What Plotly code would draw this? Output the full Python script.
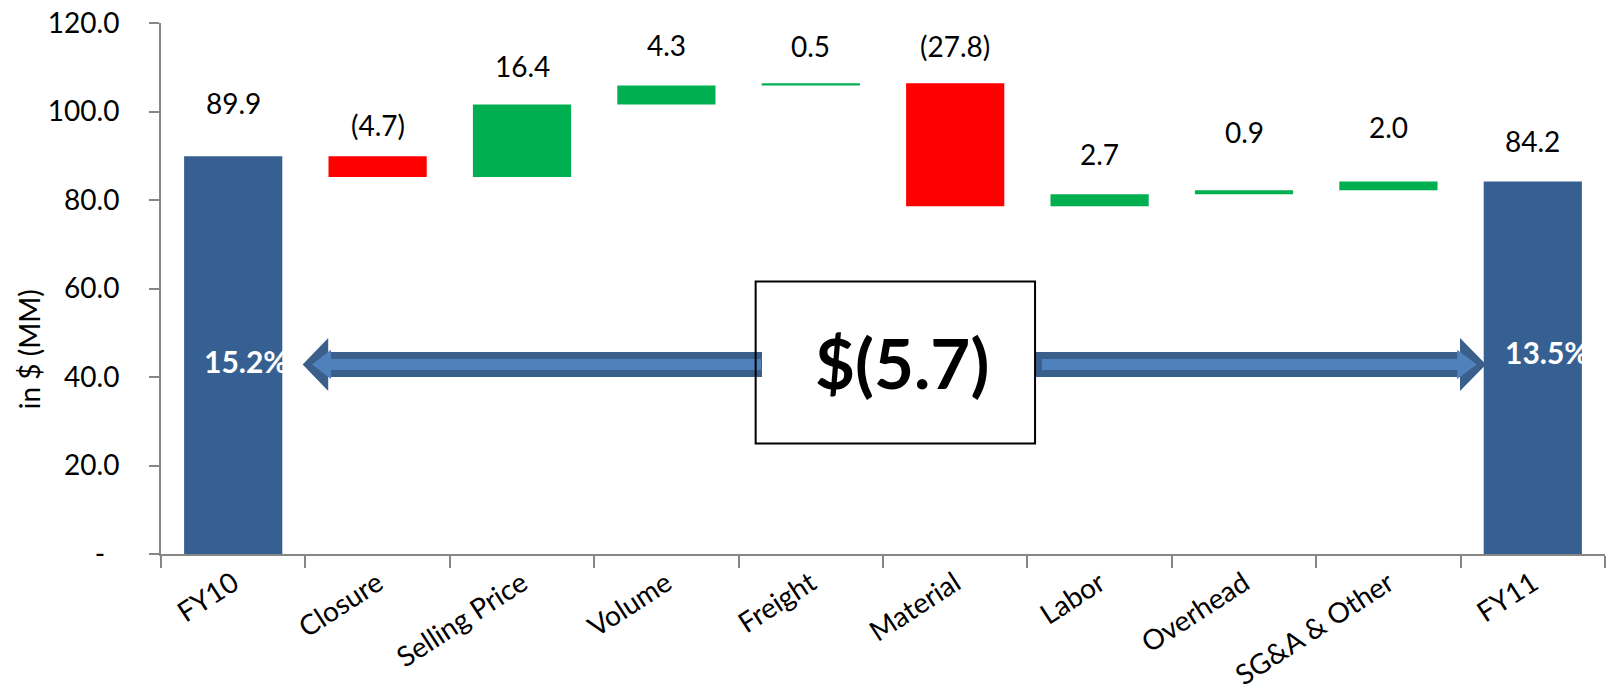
import plotly.graph_objects as go

# ---------------- data ----------------
categories = ["FY10", "Closure", "Selling Price", "Volume", "Freight",
              "Material", "Labor", "Overhead", "SG&A & Other", "FY11"]
values = [89.9, -4.7, 16.4, 4.3, 0.5, -27.8, 2.7, 0.9, 2.0, 84.2]
measures = ["absolute"] + ["relative"] * 8 + ["total"]
margin_labels = ["15.2%", "13.5%"]          # EBITDA margin FY10, FY11
y_tickvals = [0, 20, 40, 60, 80, 100, 120]
y_ticktext = ["-\u00a0\u00a0", "20.0", "40.0", "60.0", "80.0", "100.0", "120.0"]

# ---------------- styles ----------------
FONT = "Lato"
BLUE = "#376092"
GREEN = "#00B050"
RED = "#FF0000"
AXIS = "#868686"
ARROW_DARK = "#3A5F8B"
ARROW_LIGHT = "#4F81BD"
label_yshift = [53, 31, 38, 40, 37, 37, 40, 58, 54, 40]

x = list(range(len(categories)))


def fmt(v):
    return f"({abs(v):.1f})" if v < 0 else f"{v:.1f}"


# bar tops (for label placement)
tops = []
cum = 0.0
for v, m in zip(values, measures):
    if m == "absolute":
        cum = v
        tops.append(v)
    elif m == "relative":
        tops.append(max(cum, cum + v))
        cum += v
    else:
        tops.append(cum)

fig = go.Figure()
fig.add_trace(go.Waterfall(
    x=x, y=values, measure=measures, width=0.68,
    increasing=dict(marker=dict(color=GREEN, line=dict(width=0))),
    decreasing=dict(marker=dict(color=RED, line=dict(width=0))),
    totals=dict(marker=dict(color=BLUE, line=dict(width=0))),
    connector=dict(visible=False),
    hoverinfo="skip", showlegend=False,
))

annotations = []
for i, (v, t) in enumerate(zip(values, tops)):
    annotations.append(dict(
        x=i, y=t, xref="x", yref="y", text=fmt(v), showarrow=False,
        yanchor="middle", yshift=label_yshift[i],
        font=dict(family=FONT, size=28, color="black")))

# margin % labels inside total bars
annotations.append(dict(x=0 - 0.215, y=43.6, xref="x", yref="y", text=margin_labels[0],
                        showarrow=False, xanchor="left", yanchor="middle",
                        font=dict(family=FONT, size=30, color="white", weight="bold")))
annotations.append(dict(x=9 - 0.205, y=45.7, xref="x", yref="y", text=margin_labels[1],
                        showarrow=False, xanchor="left", yanchor="middle",
                        font=dict(family=FONT, size=30, color="white", weight="bold")))

# total change text
delta = values[-1] - values[0]
annotations.append(dict(x=4.635, y=43.2, xref="x", yref="y",
                        text=f"$({abs(delta):.1f})" if delta < 0 else f"${delta:.1f}",
                        showarrow=False, xanchor="center", yanchor="middle",
                        font=dict(family=FONT, size=69, color="black", weight="bold")))

# y axis title
annotations.append(dict(x=-0.0914, y=46.3, xref="paper", yref="y", text="in $ (MM)",
                        textangle=-90, showarrow=False, xanchor="center", yanchor="middle",
                        font=dict(family=FONT, size=28, color="black")))


def arrow_path(x_tip, x_head, x_end, yc, hs, hh):
    pts = [(x_tip, yc), (x_head, yc + hh), (x_head, yc + hs), (x_end, yc + hs),
           (x_end, yc - hs), (x_head, yc - hs), (x_head, yc - hh)]
    return "M " + " L ".join(f"{a},{b}" for a, b in pts) + " Z"


yc = 42.84
shapes = [
    # left arrow
    dict(type="path", xref="x", yref="y", line=dict(width=0), fillcolor=ARROW_DARK,
         path=arrow_path(0.481, 0.658, 3.662, yc, 2.825, 5.99)),
    dict(type="path", xref="x", yref="y", line=dict(width=0), fillcolor=ARROW_LIGHT,
         path=arrow_path(0.546, 0.677, 3.655, yc, 1.24, 3.3)),
    # right arrow
    dict(type="path", xref="x", yref="y", line=dict(width=0), fillcolor=ARROW_DARK,
         path=arrow_path(8.676, 8.496, 5.553, yc, 2.825, 5.99)),
    dict(type="path", xref="x", yref="y", line=dict(width=0), fillcolor=ARROW_LIGHT,
         path=arrow_path(8.612, 8.476, 5.600, yc, 1.24, 3.3)),
    # box
    dict(type="rect", xref="x", yref="y", x0=3.618, x1=5.553, y0=25.0, y1=61.6,
         line=dict(color="black", width=2), fillcolor="rgba(0,0,0,0)"),
]

fig.update_layout(
    width=1610, height=694,
    margin=dict(l=161, r=5, t=23, b=140, autoexpand=False),
    paper_bgcolor="white", plot_bgcolor="white",
    font=dict(family=FONT, size=28, color="black"),
    annotations=annotations, shapes=shapes,
    xaxis=dict(
        range=[-0.5, 9.5], tickmode="array", tickvals=x, ticktext=categories,
        tickangle=-33, ticks="", showline=True, linecolor=AXIS, linewidth=2,
        showgrid=False, zeroline=False, ticklabelstandoff=0, automargin=False,
        tickfont=dict(family=FONT, size=28, color="black"),
        minor=dict(tickmode="linear", tick0=-0.5, dtick=1, ticks="outside",
                   ticklen=12, tickwidth=2, tickcolor=AXIS, showgrid=False),
    ),
    yaxis=dict(
        range=[0, 120], tickmode="array", tickvals=y_tickvals, ticktext=y_ticktext,
        ticks="outside", ticklen=10, tickwidth=2, tickcolor=AXIS,
        showline=True, linecolor=AXIS, linewidth=2, showgrid=False, zeroline=False,
        ticklabelstandoff=24, automargin=False,
        tickfont=dict(family=FONT, size=28, color="black"),
    ),
)

fig.write_html("out.html")
